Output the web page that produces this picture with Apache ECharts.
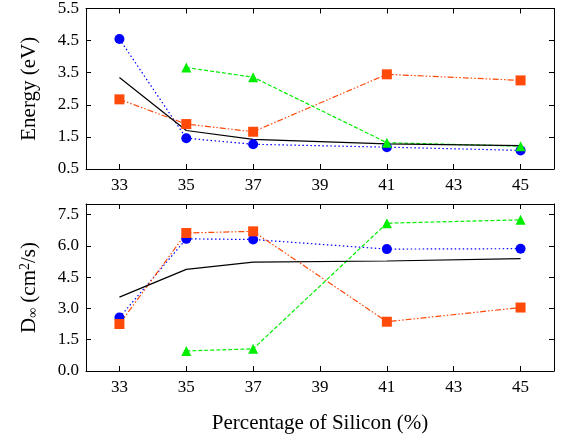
<!DOCTYPE html>
<html>
<head>
<meta charset="utf-8">
<script src="https://cdn.jsdelivr.net/npm/echarts@6/dist/echarts.min.js"></script>
<style>
  html, body { margin: 0; padding: 0; background: #fff; }
  #chart { width: 563px; height: 437px; }
</style>
</head>
<body>
<div id="chart"></div>
<script>
const silicon = [33, 35, 37, 41, 45];
const xTicks = [33, 35, 37, 39, 41, 43, 45];

// top panel: energy (eV)
const energyBlue = [4.55, 1.46, 1.27, 1.18, 1.08];
const energyOrange = [2.67, 1.90, 1.66, 3.45, 3.26];
const energyGreen = [null, 3.66, 3.36, 1.32, 1.21];
const energyBlack = [3.35, 1.70, 1.42, 1.28, 1.23];
const energyTicks = [0.5, 1.5, 2.5, 3.5, 4.5, 5.5];

// bottom panel: D_inf (cm^2/s)
const diffBlue = [2.56, 6.33, 6.30, 5.84, 5.86];
const diffOrange = [2.25, 6.61, 6.69, 2.36, 3.04];
const diffGreen = [null, 0.96, 1.06, 7.08, 7.24];
const diffBlack = [3.54, 4.87, 5.22, 5.27, 5.38];
const diffTicks = [0.0, 1.5, 3.0, 4.5, 6.0, 7.5];

const FONT = 'Liberation Serif';
const tickRich = { t: { fontFamily: FONT, fontSize: 17, color: '#000' } };

function pairs(vals) {
  return silicon.map((x, i) => [x, vals[i]]);
}

function xAxisCfg(gridIndex, position, withLabels, name) {
  return {
    type: 'value', gridIndex, position, min: 32, max: 46, interval: 1,
    axisLine: { onZero: false, lineStyle: { color: '#000', width: 1 } },
    axisTick: { inside: true, length: 5, customValues: xTicks, lineStyle: { color: '#000' } },
    axisLabel: {
      show: withLabels, color: '#000',
      formatter: (v) => (xTicks.includes(v) ? '{t|' + v + '}' : ''),
      showMinLabel: false, showMaxLabel: false,
      fontFamily: FONT, fontSize: 17, margin: 8, rich: tickRich,
    },
    splitLine: { show: false },
    name: name || '', nameLocation: 'middle', nameGap: 42,
    nameTextStyle: { color: '#000', fontFamily: FONT, fontSize: 21 },
  };
}

function yAxisCfg(gridIndex, position, withLabels, min, max, interval, ticks, name, rich) {
  return {
    type: 'value', gridIndex, position, min, max, interval,
    axisLine: { onZero: false, lineStyle: { color: '#000', width: 1 } },
    axisTick: { inside: true, length: 5, customValues: ticks, lineStyle: { color: '#000' } },
    axisLabel: {
      show: withLabels,
      formatter: (v) => (v > ticks[ticks.length - 1] + 1e-9 ? '' : '{t|' + v.toFixed(1) + '}'),
      color: '#000', fontFamily: FONT, fontSize: 17, margin: 7, rich: tickRich,
    },
    splitLine: { show: false },
    name: name || '', nameLocation: 'middle', nameGap: 46, nameRotate: 90,
    nameTextStyle: { color: '#000', fontFamily: FONT, fontSize: 21, rich: rich || {} },
  };
}

function seriesFor(xi, yi, blue, orange, green, black) {
  return [
    {
      type: 'line', xAxisIndex: xi, yAxisIndex: yi, data: pairs(blue),
      symbol: 'circle', symbolSize: 10, itemStyle: { color: '#0000ff' },
      lineStyle: { color: '#0000ff', width: 1.2, type: [1.5, 2.5] },
    },
    {
      type: 'line', xAxisIndex: xi, yAxisIndex: yi, data: pairs(orange),
      symbol: 'rect', symbolSize: 10, itemStyle: { color: '#ff4a0a' },
      lineStyle: { color: '#ff4a0a', width: 1.2, type: [6, 2, 1.5, 2, 1.5, 2] },
    },
    {
      type: 'line', xAxisIndex: xi, yAxisIndex: yi, data: pairs(green),
      symbol: 'triangle', symbolSize: 10, itemStyle: { color: '#00ee00' },
      lineStyle: { color: '#00ee00', width: 1.2, type: [4, 2] },
    },
    {
      type: 'line', xAxisIndex: xi, yAxisIndex: yi, data: pairs(black),
      symbol: 'none', lineStyle: { color: '#000', width: 1.2, type: 'solid' },
    },
  ];
}

const chart = echarts.init(document.getElementById('chart'), null, { renderer: 'canvas' });
chart.setOption({
  animation: false,
  backgroundColor: '#fff',
  textStyle: { fontFamily: FONT, color: '#000' },
  grid: [
    { left: 86, top: 6, width: 468, height: 163 },
    { left: 86, top: 204, width: 468, height: 167 },
  ],
  xAxis: [
    xAxisCfg(0, 'bottom', true),
    xAxisCfg(0, 'top', false),
    xAxisCfg(1, 'bottom', true, 'Percentage of Silicon (%)'),
    xAxisCfg(1, 'top', false),
  ],
  yAxis: [
    yAxisCfg(0, 'left', true, 0.5, 5.5, 1, energyTicks, 'Energy (eV)'),
    yAxisCfg(0, 'right', false, 0.5, 5.5, 1, energyTicks),
    yAxisCfg(1, 'left', true, 0, 8, 1.5, diffTicks,
      'D{sub|∞} (cm{sup|2}/s)',
      {
        sub: { fontFamily: FONT, fontSize: 14, color: '#000', verticalAlign: 'bottom', padding: [8, 0, 0, 0] },
        sup: { fontFamily: FONT, fontSize: 14, color: '#000', verticalAlign: 'top', padding: [0, 0, 8, 0] },
      }),
    yAxisCfg(1, 'right', false, 0, 8, 1.5, diffTicks),
  ],
  series: [
    ...seriesFor(0, 0, energyBlue, energyOrange, energyGreen, energyBlack),
    ...seriesFor(2, 2, diffBlue, diffOrange, diffGreen, diffBlack),
  ],
});
</script>
</body>
</html>
